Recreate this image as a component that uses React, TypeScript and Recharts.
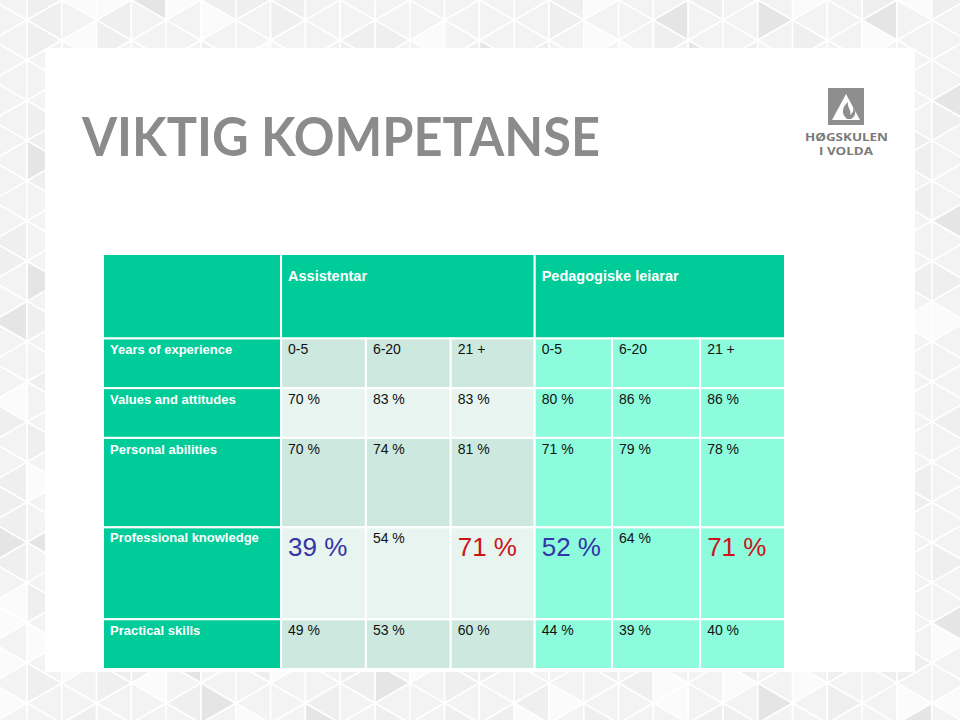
import React from 'react';
import { ComposedChart, XAxis, YAxis, ReferenceArea } from 'recharts';

// ---------- data ----------
const TITLE = 'VIKTIG KOMPETANSE';
const GROUPS = ['Assistentar', 'Pedagogiske leiarar'];
const EXPERIENCE_HEADER = 'Years of experience';
const EXPERIENCE = ['0-5', '6-20', '21 +'];
const COMPETENCES = ['Values and attitudes', 'Personal abilities', 'Professional knowledge', 'Practical skills'];
// values in %, per competence row, per experience group
const ASSISTENTAR = [
  [70, 83, 83],
  [70, 74, 81],
  [39, 54, 71],
  [49, 53, 60],
];
const PEDAGOGISKE = [
  [80, 86, 86],
  [71, 79, 78],
  [52, 64, 71],
  [44, 39, 40],
];
const HIGHLIGHT_ROW = 'Professional knowledge';

// ---------- layout / style (kept separate from data) ----------
const W = 960;
const H = 720;
const LABEL_SPAN = 2.12;
const COL_SPANS = [1.01, 1.01, 1, 0.92, 1.05, 1.01];
const ROW_SPANS = [1.7, 1, 1, 1.8, 1.85, 1];
const GREEN = '#00cc99';
const ASSIST_DARK = '#cde9df';
const ASSIST_LIGHT = '#e7f4ef';
const PED_FILL = '#8cfcdc';
const FONT = '"Liberation Sans", Arial, sans-serif';

type CellSpec = {
  key: string;
  x1: number; x2: number; y1: number; y2: number;
  fill: string;
  text: string;
  color: string;
  size: number;
  bold: boolean;
  base: number;
};

function cumulative(spans: number[], start: number) {
  const out: number[] = [];
  let acc = start;
  spans.forEach((s) => { out.push(acc); acc += s; });
  out.push(acc);
  return out;
}

function buildCells(): CellSpec[] {
  const cells: CellSpec[] = [];
  const rowB = cumulative(ROW_SPANS, 0);
  const colB = cumulative(COL_SPANS, LABEL_SPAN);
  const nExp = EXPERIENCE.length;

  cells.push({ key: 'h-blank', x1: 0, x2: LABEL_SPAN, y1: 0, y2: rowB[1], fill: GREEN, text: '', color: '#fff', size: 14, bold: true, base: 27 });
  GROUPS.forEach((g, gi) => {
    cells.push({ key: 'h-' + gi, x1: colB[gi * nExp], x2: colB[gi * nExp + nExp], y1: 0, y2: rowB[1], fill: GREEN, text: g, color: '#ffffff', size: 14.5, bold: true, base: 27 });
  });

  const labels = [EXPERIENCE_HEADER, ...COMPETENCES];
  labels.forEach((lab, li) => {
    const r = li + 1;
    cells.push({ key: 'l-' + r, x1: 0, x2: LABEL_SPAN, y1: rowB[r], y2: rowB[r + 1], fill: GREEN, text: lab, color: '#ffffff', size: 13, bold: true, base: lab === HIGHLIGHT_ROW ? 15 : 16 });
  });

  const groupsData = [ASSISTENTAR, PEDAGOGISKE];
  GROUPS.forEach((_, gi) => {
    for (let e = 0; e < nExp; e++) {
      const c = gi * nExp + e;
      for (let li = 0; li < labels.length; li++) {
        const r = li + 1;
        const fill = gi === 0 ? (r % 2 === 1 ? ASSIST_DARK : ASSIST_LIGHT) : PED_FILL;
        let text = '';
        let color = '#111111';
        let size = 14;
        let base = 16;
        if (li === 0) {
          text = EXPERIENCE[e];
        } else {
          const row = groupsData[gi][li - 1];
          const v = row[e];
          text = v + ' %';
          if (COMPETENCES[li - 1] === HIGHLIGHT_ROW) {
            const mn = Math.min(...row);
            const mx = Math.max(...row);
            if (v === mn) { color = '#3535a8'; size = 26; base = 29; }
            else if (v === mx) { color = '#cc1418'; size = 26; base = 29; }
          }
        }
        cells.push({ key: `d-${c}-${r}`, x1: colB[c], x2: colB[c + 1], y1: rowB[r], y2: rowB[r + 1], fill, text, color, size, bold: false, base });
      }
    }
  });
  return cells;
}

const CELLS = buildCells();
const X_MAX = LABEL_SPAN + COL_SPANS.reduce((a, b) => a + b, 0);
const Y_MAX = ROW_SPANS.reduce((a, b) => a + b, 0);

function hash(a: number, b: number, c: number) {
  let h = (a * 73856093) ^ (b * 19349663) ^ (c * 83492791);
  h = (h ^ (h >>> 13)) * 1274126177;
  h = h ^ (h >>> 16);
  return Math.abs(h) % 100;
}

function Background() {
  const w = 34.8;
  const s = (w * 2) / Math.sqrt(3);
  const x0 = 27 - w;
  const polys: React.ReactNode[] = [];
  const shade = (k: number, j: number, t: number) => {
    const v = hash(k + 5, j + 7, t + 3);
    if (v < 6) return '#e5e5e5';
    if (v < 15) return '#fbfbfb';
    if (v < 38) return '#efefef';
    return '#f3f3f3';
  };
  for (let k = 0; k < 30; k++) {
    const xa = x0 + k * w;
    const xb = xa + w;
    const off = (k % 2) * (s / 2);
    for (let j = -2; j < 22; j++) {
      const y = j * s + off - s;
      polys.push(
        <polygon key={`r${k}-${j}`} points={`${xa},${y} ${xa},${y + s} ${xb},${y + s / 2}`} fill={shade(k, j, 0)} stroke="#ffffff" strokeWidth={1.6} />
      );
      polys.push(
        <polygon key={`l${k}-${j}`} points={`${xb},${y + s / 2} ${xb},${y + 1.5 * s} ${xa},${y + s}`} fill={shade(k, j, 1)} stroke="#ffffff" strokeWidth={1.6} />
      );
    }
  }
  return (
    <svg width={W} height={H} style={{ position: 'absolute', left: 0, top: 0 }}>
      <rect x={0} y={0} width={W} height={H} fill="#f3f3f3" />
      {polys}
      <rect x={45} y={48} width={870} height={624} fill="#ffffff" />
      <text x={82} y={156} fontFamily="Lato, 'Open Sans', sans-serif" fontWeight={700} fontSize={54} fill="#8b8b8b" textLength={518} lengthAdjust="spacingAndGlyphs">{TITLE}</text>
      <rect x={828} y={88} width={36} height={37} fill="#8e8e8e" />
      <path d="M846,94 L860,120 L832,120 Z" fill="#ffffff" />
      <path d="M847,119 C840,113 843,106 848,102 C847,108 852,110 850,115 C853,113 854,110 853,107 C857,112 855,117 851,119 Z" fill="#8e8e8e" />
      <text x={805} y={141} fontFamily="'Open Sans', sans-serif" fontWeight={700} fontSize={10.5} fill="#7a7a7a" textLength={83} lengthAdjust="spacingAndGlyphs">HØGSKULEN</text>
      <text x={819} y={155} fontFamily="'Open Sans', sans-serif" fontWeight={700} fontSize={10.5} fill="#7a7a7a" textLength={54} lengthAdjust="spacingAndGlyphs">I VOLDA</text>
    </svg>
  );
}

export default function App() {
  return (
    <div style={{ position: 'absolute', left: 0, top: 0, width: W, height: H, overflow: 'hidden', background: '#ffffff' }}>
      <Background />
      <div style={{ position: 'absolute', left: 0, top: 0 }}>
        <ComposedChart width={W} height={H} data={CELLS} margin={{ top: 254, right: 175, bottom: 51, left: 103 }}>
          <XAxis type="number" dataKey="x1" hide domain={[0, X_MAX]} allowDataOverflow />
          <YAxis type="number" dataKey="y1" hide reversed domain={[0, Y_MAX]} allowDataOverflow />
          {CELLS.map((c) => (
            <ReferenceArea
              key={c.key}
              x1={c.x1}
              x2={c.x2}
              y1={c.y1}
              y2={c.y2}
              ifOverflow="visible"
              shape={(p: any) => (
                <g>
                  <rect x={p.x} y={p.y} width={p.width} height={p.height} fill={c.fill} stroke="#ffffff" strokeWidth={2} />
                  {c.text ? (
                    <text x={p.x + 7} y={p.y + c.base} fontFamily={FONT} fontSize={c.size} fontWeight={c.bold ? 700 : 400} fill={c.color}>
                      {c.text}
                    </text>
                  ) : null}
                </g>
              )}
            />
          ))}
        </ComposedChart>
      </div>
    </div>
  );
}
